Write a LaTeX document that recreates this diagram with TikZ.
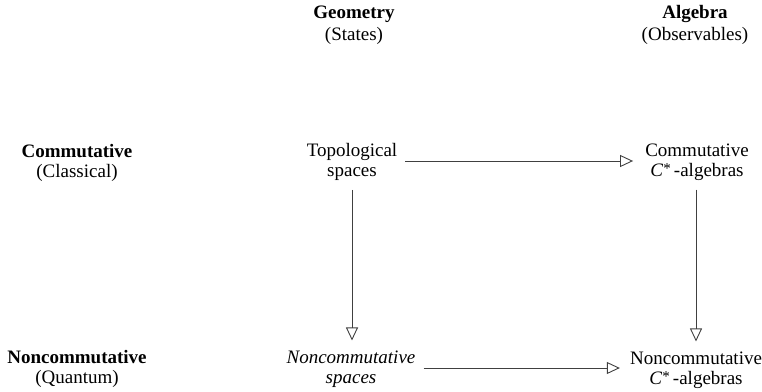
\documentclass[tikz,border=0pt]{standalone}
\usepackage{fontspec}
\setmainfont{Liberation Serif}
\usetikzlibrary{arrows.meta}
\newcommand{\cstar}{\textit{C}\raisebox{3pt}{\fontsize{15}{15}\selectfont *}\,}
\begin{document}
\begin{tikzpicture}[x=1pt,y=-1pt,
  lbl/.style={align=center,inner sep=0pt,font=\fontsize{19}{20}\selectfont},
  arr/.style={draw=black!75,line width=0.9pt,-{Triangle[open,length=13pt,width=12pt,line width=0.9pt]}}]
\useasboundingbox (0,0) rectangle (762,391);
% headers
\node[lbl] (geo) at (354,25) {\textbf{Geometry}\\[2pt](States)};
\node[lbl] (alg) at (695,25) {\textbf{Algebra}\\[2pt](Observables)};
% row labels
\node[lbl] (crow) at (77,163) {\textbf{Commutative}\\(Classical)};
\node[lbl] (nrow) at (77,369) {\textbf{Noncommutative}\\(Quantum)};
% cells
\node[lbl] (topo) at (352,162) {Topological\\spaces};
\node[lbl] (comm) at (697,162) {Commutative\\\cstar-algebras};
\node[lbl] (nsp) at (351,369) {\textit{Noncommutative}\\\textit{spaces}};
\node[lbl] (nalg) at (696,370) {Noncommutative\\\cstar-algebras};
% connector end points
\coordinate (h1s) at ([xshift=8pt,yshift=1pt]topo.east);
\coordinate (h1e) at ([xshift=-12pt]comm.west |- h1s);
\coordinate (h2s) at ([xshift=8pt,yshift=1pt]nsp.east);
\coordinate (h2e) at ([xshift=-10pt]nalg.west |- h2s);
\coordinate (v1s) at ([yshift=-9pt]topo.south);
\coordinate (v1e) at ([yshift=10pt]nsp.north -| v1s);
\coordinate (v2s) at ([xshift=-1pt,yshift=-9pt]comm.south);
\coordinate (v2e) at ([yshift=10pt]nalg.north -| v2s);
% arrows
\draw[arr] (h1s) -- (h1e);
\draw[arr] (h2s) -- (h2e);
\draw[arr] (v1s) -- (v1e);
\draw[arr] (v2s) -- (v2e);
\end{tikzpicture}
\end{document}
